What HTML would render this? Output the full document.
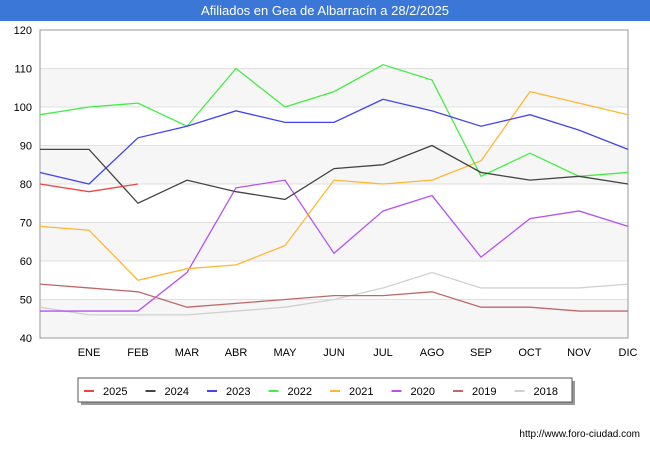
<!DOCTYPE html>
<html><head><meta charset="utf-8"><style>
body{margin:0;background:#fff;font-family:"Liberation Sans",sans-serif;}
</style></head><body>
<svg width="650" height="450" xmlns="http://www.w3.org/2000/svg">
<rect x="0" y="0" width="650" height="450" fill="#fff"/>
<rect x="0" y="0" width="650" height="21" fill="#3a77d6"/>
<text x="325" y="15" text-anchor="middle" font-size="13" fill="#fff">Afiliados en Gea de Albarracín a 28/2/2025</text>
<g id="grid"></g>
<g id="axes"></g>
<g id="series"></g>
<rect x="81" y="381" width="494" height="24" fill="#999"/>
<rect x="78" y="378" width="494" height="24" fill="#fff" stroke="#555"/>
<g id="legend"></g>
<text x="640" y="437" text-anchor="end" font-size="10" fill="#000">http://www.foro-ciudad.com</text>
</svg>
<script>
const months=["","ENE","FEB","MAR","ABR","MAY","JUN","JUL","AGO","SEP","OCT","NOV","DIC"];
const yTicks=[40,50,60,70,80,90,100,110,120];
const names=["2025","2024","2023","2022","2021","2020","2019","2018"];
const colors=["#ee4444","#444444","#4444ee","#44ee44","#ffb733","#b452f5","#c06868","#d0d0d0"];
const s2025=[80,78,80];
const s2024=[89,89,75,81,78,76,84,85,90,83,81,82,80];
const s2023=[83,80,92,95,99,96,96,102,99,95,98,94,89];
const s2022=[98,100,101,95,110,100,104,111,107,82,88,82,83];
const s2021=[69,68,55,58,59,64,81,80,81,86,104,101,98];
const s2020=[47,47,47,57,79,81,62,73,77,61,71,73,69];
const s2019=[54,53,52,48,49,50,51,51,52,48,48,47,47];
const s2018=[48,46,46,46,47,48,50,53,57,53,53,53,54];
const series=[s2025,s2024,s2023,s2022,s2021,s2020,s2019,s2018];
const X0=40,X1=628,Y0=338,Y1=30;
const x=i=>X0+i*(X1-X0)/12;
const y=v=>Y0-(v-40)*(Y0-Y1)/80;
const NS="http://www.w3.org/2000/svg";
function mk(tag,attrs,parent,text){const e=document.createElementNS(NS,tag);for(const k in attrs)e.setAttribute(k,attrs[k]);if(text!==undefined)e.textContent=text;document.getElementById(parent).appendChild(e);return e;}
for(let i=0;i<yTicks.length-1;i++){
 if(i%2===0){const b=mk("rect",{x:X0,y:y(yTicks[i+1]),width:X1-X0,height:y(yTicks[i])-y(yTicks[i+1]),fill:"#f6f6f6"},"grid");
 
 }
}
yTicks.forEach(t=>{
 const l=mk("line",{x1:X0,x2:X1,y1:y(t),y2:y(t),stroke:"#e0e0e0"},"grid");
 
 
 const tx=mk("text",{x:X0-8,y:y(t)+4,"text-anchor":"end","font-size":"11",fill:"#000"},"axes",t);
 
 
});
const fr=mk("rect",{x:X0,y:Y1,width:X1-X0,height:Y0-Y1,fill:"none",stroke:"#999"},"axes");


months.forEach((m,i)=>{if(!m)return;
 const tx=mk("text",{x:x(i),y:356,"text-anchor":"middle","font-size":"11",fill:"#000"},"axes",m);
 
 
});
for(let k=series.length-1;k>=0;k--){
 const pts=series[k].map((v,i)=>x(i)+","+y(v)).join(" ");
 const p=mk("polyline",{points:pts,fill:"none",stroke:colors[k],"stroke-width":"1.3"},"series");
 
 
}
names.forEach((n,k)=>{
 const lx=84+k*61.5;
 const l=mk("line",{x1:lx,x2:lx+10,y1:391,y2:391,stroke:colors[k],"stroke-width":"2"},"legend");
 
 
 const t=mk("text",{x:lx+19,y:395,"font-size":"11",fill:"#000"},"legend",n);
 
 
});
</script>
</body></html>
